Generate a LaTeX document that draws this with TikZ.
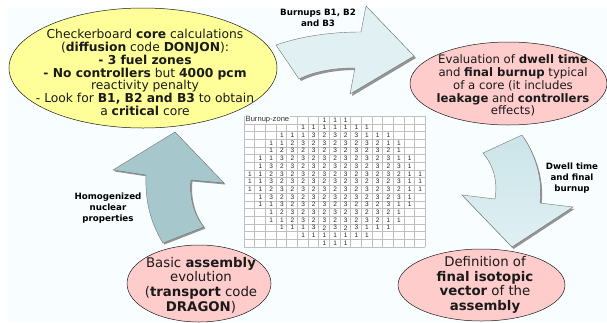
\documentclass[tikz,border=0pt]{standalone}
\usepackage{fontspec}
\setmainfont{DejaVu Sans}
\setsansfont{Liberation Sans}
\usetikzlibrary{shapes.geometric}
\definecolor{bgc}{HTML}{F8FEFF}
\definecolor{yel}{HTML}{FFFF99}
\definecolor{pinkc}{HTML}{FFCCCC}
\definecolor{arrowa}{HTML}{E0F0F3}
\definecolor{arrowb}{HTML}{CBE4E8}
\definecolor{arrowc}{HTML}{A6C8CC}
\definecolor{ink}{HTML}{1A1A1A}
\tikzset{
  oval/.style={ellipse,draw=ink,line width=0.5pt,inner sep=0pt,align=center,text=ink},
  coretxt/.style={font=\fontsize{12.3}{12.9}\selectfont},
  normaltext/.style={font=\fontsize{11.7}{12.9}\selectfont},
  bigtext/.style={font=\fontsize{13.3}{14.7}\selectfont},
  arrowlabel/.style={align=center,text=black,font=\fontsize{8.7}{11}\selectfont\bfseries},
  arrowshape/.style={draw=black!55,line width=0.4pt},
  arrowshadow/.style={fill=black!42},
  gridline/.style={draw=black!25,line width=0.4pt},
  cellnum/.style={font=\sffamily\fontsize{6.5}{7}\selectfont,text=black!85,inner sep=0pt},
}
\newcommand{\myarrowtop}{(276,45) .. controls (305,35) and (335,32) .. (361,32) -- (366,6) -- (414,56) -- (350,94) -- (355,68) .. controls (335,68) and (315,71) .. (299,79) -- cycle}
\newcommand{\myarrowright}{(483,153) -- (522,135) .. controls (536,155) and (543,180) .. (540,203) -- (573,207) -- (512,247) -- (462,195) -- (495,199) .. controls (498,180) and (493,165) .. (483,153) -- cycle}
\newcommand{\myarrowleft}{(175,132) -- (224,183) -- (191,180) .. controls (189,197) and (194,215) .. (204,227) -- (163,243) .. controls (150,222) and (145,200) .. (146,175) -- (113,170) -- cycle}
\begin{document}
\begin{tikzpicture}[x=1pt,y=-1pt]
\useasboundingbox (0,0) rectangle (607,322);
\fill[white] (0,0) rectangle (607,322);
\fill[bgc] (8,8) rectangle (607,322);
% grid
\fill[white] (244,116) rectangle (425,247);
\foreach \i in {0,...,17}{\draw[gridline] ({244+\i*10.65},116) -- ({244+\i*10.65},247);}
\foreach \j in {0,...,17}{\draw[gridline] (244,{116+\j*7.706}) -- (425,{116+\j*7.706});}
\node[anchor=west,fill=white,inner sep=0.5pt,font=\sffamily\fontsize{7.6}{8}\selectfont,text=black!80] (title) at (245,119.8) {Burnup-zone};
\foreach \r/\s/\vals in {
 0/7/{1,1,1},
 1/5/{1,1,1,1,1,1,1},
 2/3/{1,1,1,3,2,3,2,3,1,1,1},
 3/2/{1,1,2,3,2,3,2,3,2,3,2,1,1},
 4/2/{1,2,3,2,3,2,3,2,3,2,3,2,1},
 5/1/{1,1,3,2,3,2,3,2,3,2,3,2,3,1,1},
 6/1/{1,3,2,3,2,3,2,3,2,3,2,3,2,3,1},
 7/0/{1,1,2,3,2,3,2,3,2,3,2,3,2,3,2,1,1},
 8/0/{1,1,3,2,3,2,3,2,3,2,3,2,3,2,3,1,1},
 9/0/{1,1,2,3,2,3,2,3,2,3,2,3,2,3,2,1,1},
 10/1/{1,3,2,3,2,3,2,3,2,3,2,3,2,3,1},
 11/1/{1,1,3,2,3,2,3,2,3,2,3,2,3,1,1},
 12/2/{1,2,3,2,3,2,3,2,3,2,3,2,1},
 13/2/{1,1,2,3,2,3,2,3,2,3,2,1,1},
 14/3/{1,1,1,3,2,3,2,3,1,1,1},
 15/5/{1,1,1,1,1,1,1},
 16/7/{1,1,1}}{
  \foreach \v [count=\k from 0] in \vals {
    \node[cellnum] (c\r-\k) at ({244+(\s+\k+0.55)*10.65},{116+(\r+0.5)*7.706}) {\v};
  }
}
% arrows
\path[arrowshadow,shift={(2,2)}] \myarrowtop;
\path[arrowshape,fill=arrowa] \myarrowtop;
\path[arrowshadow,shift={(1.5,2)}] \myarrowright;
\path[arrowshape,top color=arrowb,bottom color=arrowa] \myarrowright;
\path[arrowshadow,shift={(1.5,1.5)}] \myarrowleft;
\path[arrowshape,fill=arrowc] \myarrowleft;
% ovals
\node[oval,fill=yel,minimum width=268pt,minimum height=120pt] (core) at (143,68) {};
\node[coretxt,align=center,text=ink,inner sep=0pt] (coretext) at (145,72.5) {Checkerboard \textbf{core} calculations\\(\textbf{diffusion} code \textbf{DONJON}):\\\textbf{- 3 fuel zones}\\\textbf{- No controllers} but \textbf{4000 pcm}\\reactivity penalty\\- Look for \textbf{B1, B2 and B3} to obtain\\a \textbf{critical} core};
\node[oval,fill=pinkc,minimum width=197pt,minimum height=83pt] (dwell) at (508.5,83.5) {};
\node[normaltext,align=center,text=ink,inner sep=0pt] (dwelltext) at (513,85.5) {Evaluation of \textbf{dwell time}\\and \textbf{final burnup} typical\\of a core (it includes\\\textbf{leakage} and \textbf{controllers}\\effects)};
\node[oval,fill=pinkc,minimum width=144pt,minimum height=77pt] (basic) at (199,283.5) {};
\node[bigtext,align=center,text=ink,inner sep=0pt] (basictext) at (201,285) {Basic \textbf{assembly}\\evolution\\(\textbf{transport} code\\\textbf{DRAGON})};
\node[oval,fill=pinkc,minimum width=167pt,minimum height=72pt] (defin) at (481.5,285) {};
\node[bigtext,align=center,text=ink,inner sep=0pt] (defintext) at (485,285) {Definition of\\\textbf{final isotopic}\\\textbf{vector} of the\\\textbf{assembly}};
% labels
\node[arrowlabel,inner sep=0pt] (l1) at (318,17.5) {Burnups B1, B2\\and B3};
\node[arrowlabel,inner sep=0pt] (l2) at (108,208) {Homogenized\\nuclear\\properties};
\node[arrowlabel,inner sep=0pt] (l3) at (572,178) {Dwell time\\and final\\burnup};
\end{tikzpicture}
\end{document}
